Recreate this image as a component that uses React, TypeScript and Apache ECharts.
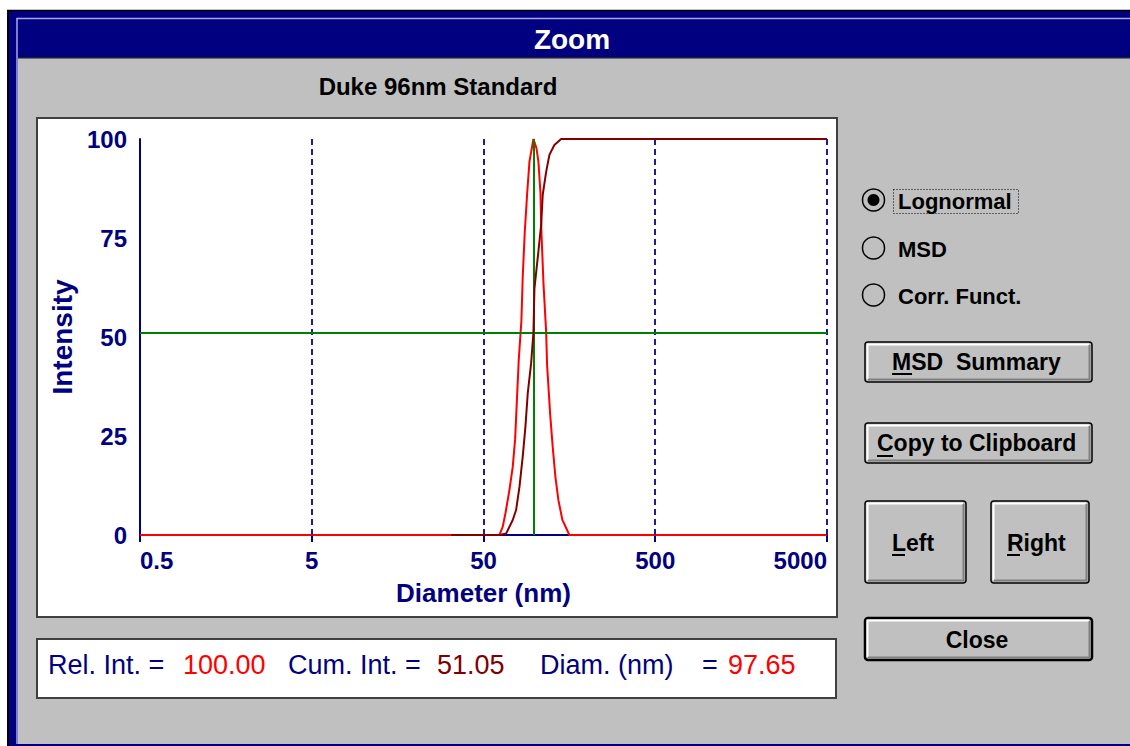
import React, { useEffect, useRef } from "react";
import * as echarts from "echarts";

// ---- data ----
const chartTitle = "Duke 96nm Standard";
const xTickValues = [0.5, 5, 50, 500, 5000];
const gridLineDiameters = [5, 50, 500, 5000];

const intensityDiameters = [0.5, 61.9, 64.7, 67.1, 70.8, 74.0, 76.4, 78.1, 80.2, 83.1, 84.6, 86.9, 89.8, 92.6, 97.65, 101.7, 104.4, 107.3, 108.7, 111.7, 115.8, 117.3, 122.1, 126.4, 131.1, 136.5, 144.0, 158.1, 5000];
const intensityValues = [0, 0, 2.1, 5.5, 11.4, 17.2, 24.2, 33.3, 44.2, 54.1, 65.2, 76.4, 86.3, 94.3, 100, 97.7, 94.3, 86.4, 76.5, 63.6, 51.3, 42.9, 30.7, 22.3, 14.7, 8.8, 3.8, 0, 0];

const cumulativeDiameters = [32.4, 61.9, 67.8, 74.0, 77.4, 81.0, 84.6, 87.7, 90.5, 94.7, 97.65, 99.0, 103.4, 108.3, 110.6, 115.8, 121.0, 129.3, 141.5, 5000];
const cumulativeValues = [0, 0, 0.4, 3.8, 6.3, 12.2, 19.8, 27.3, 35.8, 43.4, 51.05, 62.3, 69.9, 78.3, 85.9, 91.7, 96.0, 98.5, 100, 100];

const cursorDiameter = 97.65;
const cursorCumulative = 51.05;
const relIntText = "100.00";
const cumIntText = "51.05";
const diamText = "97.65";

const NAVY = "#000080";
const FONT = '"Liberation Sans", Arial, sans-serif';

function button(x: number, y: number, w: number, h: number, isDefault: boolean): any[] {
  return [
    { type: "rect", z: 1, shape: { x, y, width: w, height: h, r: 3 }, style: { fill: "#c0c0c0", stroke: "#000", lineWidth: isDefault ? 2.5 : 1.5 } },
    { type: "polyline", z: 2, shape: { points: [[x + 2.5, y + h - 3], [x + 2.5, y + 2.5], [x + w - 3, y + 2.5]] }, style: { stroke: "#ffffff", lineWidth: 2, fill: null } },
    { type: "polyline", z: 2, shape: { points: [[x + 3, y + h - 2.5], [x + w - 2.5, y + h - 2.5], [x + w - 2.5, y + 3]] }, style: { stroke: "#808080", lineWidth: 2, fill: null } },
  ];
}

function label(text: string, x: number, y: number, opts: any = {}): any {
  return {
    type: "text",
    z: 3,
    style: {
      text,
      x,
      y,
      fill: opts.fill || "#000",
      fontSize: opts.fontSize || 23,
      fontWeight: opts.fontWeight || "bold",
      fontFamily: FONT,
      align: opts.align || "left",
      verticalAlign: "middle",
    },
  };
}

function underline(x1: number, x2: number, y: number): any {
  return { type: "line", z: 3, shape: { x1, y1: y, x2, y2: y }, style: { stroke: "#000", lineWidth: 2 } };
}

export default function App() {
  const ref = useRef<HTMLDivElement>(null);

  useEffect(() => {
    document.body.style.margin = "0";
    if (!ref.current) return;
    const chart = echarts.init(ref.current, null, { renderer: "svg" });

    const intensityData = intensityDiameters.map((d, i) => [d, intensityValues[i]]);
    const cumulativeData = cumulativeDiameters.map((d, i) => [d, cumulativeValues[i]]);

    const info = { fontSize: 27, fontWeight: "normal" };

    const graphics: any[] = [
      // window frame
      { type: "rect", z: 0, shape: { x: 0, y: 0, width: 1130, height: 746 }, style: { fill: "#ffffff" } },
      { type: "rect", z: 0, shape: { x: 7, y: 10, width: 1123, height: 736 }, style: { fill: NAVY } },
      { type: "line", z: 0, shape: { x1: 7, y1: 10.5, x2: 1130, y2: 10.5 }, style: { stroke: "#000", lineWidth: 1.5 } },
      { type: "line", z: 0, shape: { x1: 8, y1: 10, x2: 8, y2: 746 }, style: { stroke: "#000", lineWidth: 2 } },
      { type: "line", z: 0, shape: { x1: 16.5, y1: 18.5, x2: 1130, y2: 18.5 }, style: { stroke: "#a8a8e8", lineWidth: 1.5 } },
      { type: "line", z: 0, shape: { x1: 17, y1: 18, x2: 17, y2: 744 }, style: { stroke: "#a8a8e8", lineWidth: 1.5 } },
      { type: "rect", z: 0, shape: { x: 18, y: 57, width: 1112, height: 1.5 }, style: { fill: "#202020" } },
      { type: "rect", z: 0, shape: { x: 18, y: 58.5, width: 1112, height: 685.5 }, style: { fill: "#c0c0c0" } },
      label("Zoom", 572, 39, { fill: "#ffffff", fontSize: 28, align: "center" }),
      label(chartTitle, 438, 86, { fontSize: 24, align: "center" }),

      // chart panel
      { type: "rect", z: 0, shape: { x: 37, y: 118, width: 800, height: 499 }, style: { fill: "#ffffff", stroke: "#404040", lineWidth: 2 } },

      // info panel
      { type: "rect", z: 0, shape: { x: 37, y: 639, width: 799, height: 59 }, style: { fill: "#ffffff", stroke: "#404040", lineWidth: 2 } },
      label("Rel. Int. =", 48, 665, { fill: NAVY, ...info }),
      label(relIntText, 183, 665, { fill: "#ff0000", ...info }),
      label("Cum. Int. =", 288, 665, { fill: NAVY, ...info }),
      label(cumIntText, 437, 665, { fill: "#800000", ...info }),
      label("Diam. (nm)", 540, 665, { fill: NAVY, ...info }),
      label("=", 702, 665, { fill: NAVY, ...info }),
      label(diamText, 728, 665, { fill: "#ff0000", ...info }),

      // radio buttons
      { type: "circle", z: 2, shape: { cx: 873.5, cy: 200, r: 11 }, style: { fill: "#c0c0c0", stroke: "#000", lineWidth: 1.5 } },
      { type: "circle", z: 3, shape: { cx: 873.5, cy: 200, r: 6 }, style: { fill: "#000" } },
      { type: "circle", z: 2, shape: { cx: 873.5, cy: 248, r: 11 }, style: { fill: "#c0c0c0", stroke: "#000", lineWidth: 1.5 } },
      { type: "circle", z: 2, shape: { cx: 873.5, cy: 295, r: 11 }, style: { fill: "#c0c0c0", stroke: "#000", lineWidth: 1.5 } },
      { type: "rect", z: 2, shape: { x: 893.5, y: 189.5, width: 125, height: 24 }, style: { fill: null, stroke: "#000", lineWidth: 1, lineDash: [1, 2] } },
      label("Lognormal", 898, 201, { fontSize: 22 }),
      label("MSD", 898, 249, { fontSize: 22 }),
      label("Corr. Funct.", 898, 296, { fontSize: 22 }),

      // buttons
      ...button(865, 342, 227, 40, false),
      label("MSD  Summary", 892, 362),
      underline(892, 912, 374),
      ...button(865, 423, 227, 40, false),
      label("Copy to Clipboard", 877, 443),
      underline(877, 893, 456),
      ...button(865, 501, 101, 82, false),
      label("Left", 892, 543),
      underline(892, 905, 555),
      ...button(991, 501, 98, 82, false),
      label("Right", 1007, 543),
      underline(1007, 1020, 555),
      ...button(865, 618, 227, 42, true),
      label("Close", 977, 640, { align: "center" }),
    ];

    const option: any = {
      animation: false,
      graphic: { elements: graphics },
      grid: { left: 140, top: 139, right: 303, bottom: 211, containLabel: false, outerBoundsMode: "none" },
      xAxis: {
        type: "log",
        logBase: 10,
        min: 0.5,
        max: 5000,
        z: 3,
        axisLine: { show: true, lineStyle: { color: NAVY, width: 2 } },
        axisTick: { show: true, customValues: xTickValues, length: 7, lineStyle: { color: NAVY, width: 2 } },
        axisLabel: {
          customValues: xTickValues,
          formatter: (v: number) => String(v),
          color: NAVY,
          fontSize: 24,
          fontWeight: "bold",
          fontFamily: FONT,
          margin: 13,
          alignMinLabel: "left",
          alignMaxLabel: "right",
        },
        splitLine: { show: false },
        minorTick: { show: false },
        name: "Diameter (nm)",
        nameLocation: "middle",
        nameGap: 45,
        nameTextStyle: { color: NAVY, fontSize: 26, fontWeight: "bold", fontFamily: FONT },
      },
      yAxis: {
        type: "value",
        min: 0,
        max: 100,
        interval: 25,
        z: 3,
        axisLine: { show: true, lineStyle: { color: NAVY, width: 2 } },
        axisTick: { show: false },
        axisLabel: { color: NAVY, fontSize: 24, fontWeight: "bold", fontFamily: FONT, margin: 13 },
        splitLine: { show: false },
        name: "Intensity",
        nameLocation: "middle",
        nameGap: 60,
        nameRotate: 90,
        nameTextStyle: { color: NAVY, fontSize: 28, fontWeight: "bold", fontFamily: FONT },
      },
      series: [
        {
          name: "grid",
          type: "line",
          data: [],
          z: 3,
          silent: true,
          markLine: {
            silent: true,
            symbol: ["none", "none"],
            label: { show: false },
            lineStyle: { color: "#1c1c96", width: 2, type: [6, 4] },
            data: gridLineDiameters.map((d) => ({ xAxis: d })),
          },
        },
        {
          name: "Intensity",
          type: "line",
          data: intensityData,
          showSymbol: false,
          z: 4,
          lineStyle: { color: "#ff0000", width: 2 },
          itemStyle: { color: "#ff0000" },
        },
        {
          name: "Cumulative",
          type: "line",
          data: cumulativeData,
          showSymbol: false,
          z: 5,
          lineStyle: { color: "#800000", width: 2 },
          itemStyle: { color: "#800000" },
        },
        {
          name: "cursor",
          type: "line",
          data: [],
          z: 6,
          silent: true,
          markLine: {
            silent: true,
            symbol: ["none", "none"],
            label: { show: false },
            lineStyle: { color: "#008000", width: 2, type: "solid" },
            data: [{ xAxis: cursorDiameter }, { yAxis: cursorCumulative }],
          },
        },
      ],
    };

    chart.setOption(option);
    return () => chart.dispose();
  }, []);

  return <div ref={ref} style={{ position: "absolute", left: 0, top: 0, width: 1130, height: 746 }} />;
}
